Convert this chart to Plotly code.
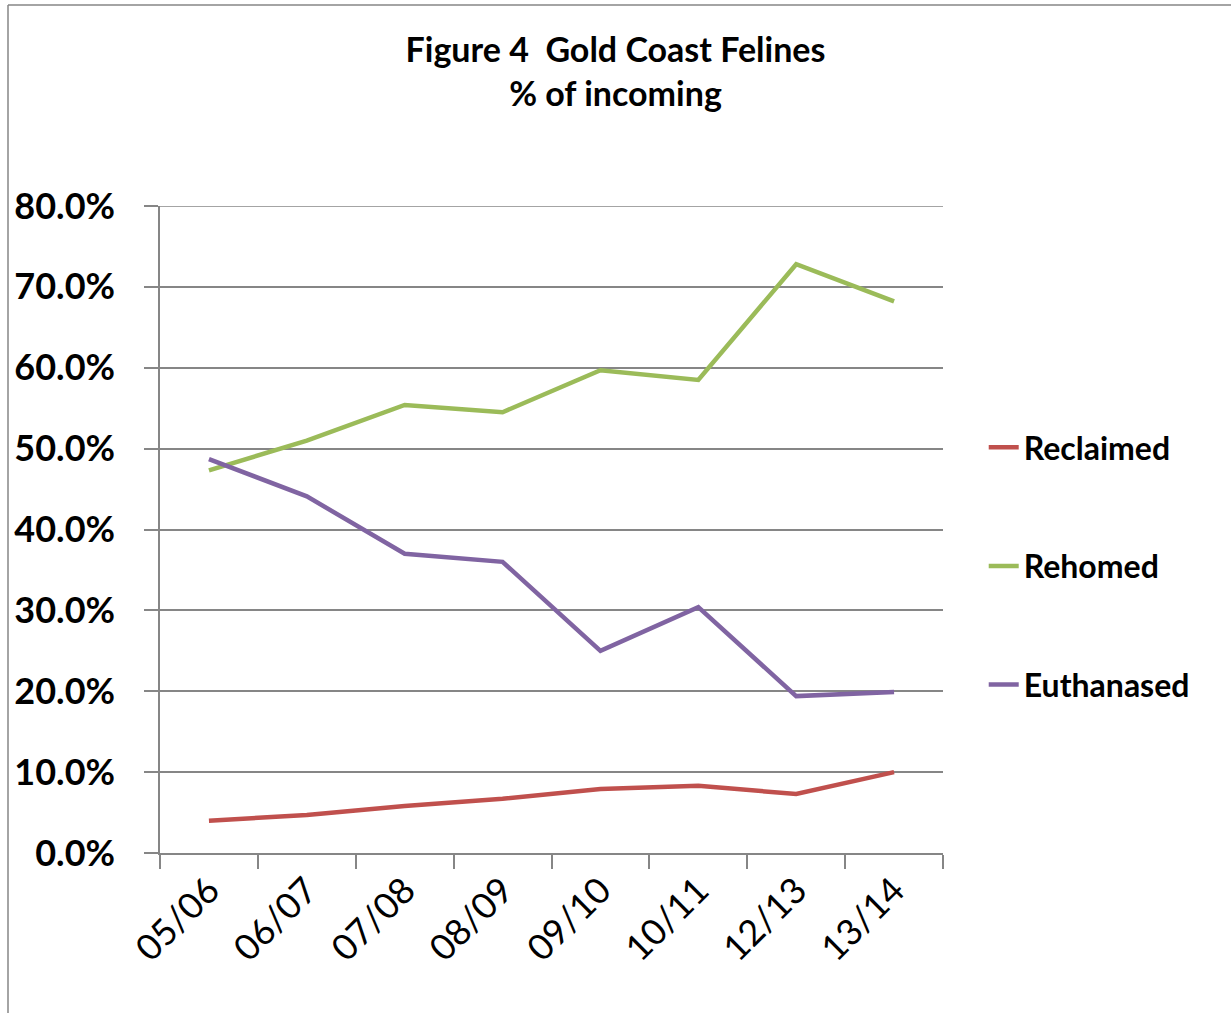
import plotly.graph_objects as go

# Financial years and share of incoming cats by outcome
years = ["05/06", "06/07", "07/08", "08/09", "09/10", "10/11", "12/13", "13/14"]
reclaimed = [0.040, 0.047, 0.058, 0.067, 0.079, 0.083, 0.073, 0.100]
rehomed = [0.473, 0.510, 0.554, 0.545, 0.597, 0.585, 0.728, 0.682]
euthanased = [0.487, 0.441, 0.370, 0.360, 0.250, 0.304, 0.194, 0.199]
y_ticks = [i / 10 for i in range(9)]

W, H = 1231, 1015
L, R, T, B = 160, 288, 206, 162
GRID = "#868686"
FONT = "Lato"

series = [
    ("Reclaimed", reclaimed, "#C0504D"),
    ("Rehomed", rehomed, "#9BBB59"),
    ("Euthanased", euthanased, "#8064A2"),
]

fig = go.Figure()
for name, vals, color in series:
    fig.add_trace(go.Scatter(
        x=years, y=vals, name=name, mode="lines", legendgroup=name,
        line=dict(color=color, width=4.5),
    ))

# paper coordinates for the outer frame (top and left edges)
def px_x(px):
    return (px - L) / (W - L - R)

def px_y(py):
    return (H - B - py) / (H - T - B)

fig.update_layout(
    width=W, height=H,
    margin=dict(l=L, r=R, t=T, b=B, autoexpand=False),
    paper_bgcolor="white", plot_bgcolor="white",
    font=dict(family=FONT, color="black"),
    title=dict(
        text="<b>Figure 4  Gold Coast Felines<br>% of incoming</b>",
        x=0.5, xanchor="center", xref="container",
        y=1 - 62 / H, yanchor="middle", yref="container",
        font=dict(family=FONT, size=34, color="black"),
    ),
    showlegend=True,
    legend=dict(
        x=1.052, xanchor="left", y=px_y(566), yanchor="middle",
        tracegroupgap=74,
        font=dict(family=FONT, size=32, color="black", weight="bold"),
        bgcolor="rgba(0,0,0,0)",
    ),
    xaxis=dict(
        type="category", tickson="boundaries", range=[-0.5, len(years) - 0.5],
        showline=True, linecolor=GRID, linewidth=1.5,
        ticks="outside", ticklen=14, tickcolor=GRID, tickwidth=1.5,
        tickangle=-45, showgrid=False,
        tickfont=dict(family=FONT, size=36, color="black"),
    ),
    yaxis=dict(
        range=[0, y_ticks[-1]], tickvals=y_ticks, tickformat=".1%",
        showline=True, linecolor=GRID, linewidth=1.5,
        ticks="outside", ticklen=14, tickcolor=GRID, tickwidth=1.5,
        showgrid=True, gridcolor=GRID, gridwidth=1.5, zeroline=False,
        ticklabelstandoff=22,
        tickfont=dict(family=FONT, size=36, color="black", weight="bold"),
    ),
    shapes=[
        # gridline at the top of the value axis
        dict(type="line", xref="paper", yref="y",
             x0=0, x1=1, y0=y_ticks[-1], y1=y_ticks[-1], layer="below",
             line=dict(color=GRID, width=1.5)),
        dict(type="line", xref="paper", yref="paper",
             x0=px_x(8), x1=px_x(W + 5), y0=px_y(5), y1=px_y(5),
             line=dict(color=GRID, width=1.5)),
        dict(type="line", xref="paper", yref="paper",
             x0=px_x(8), x1=px_x(8), y0=px_y(5), y1=px_y(1013),
             line=dict(color=GRID, width=1.5)),
    ],
)

fig.write_html("out.html")
